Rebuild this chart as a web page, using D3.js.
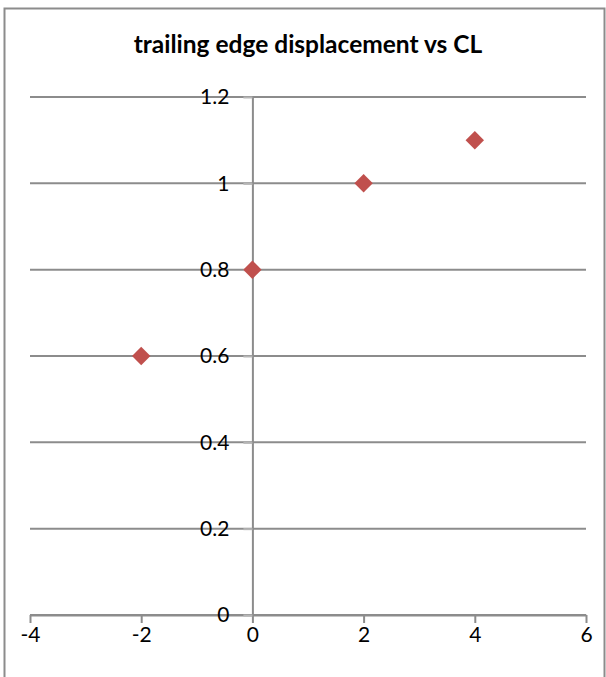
<!DOCTYPE html>
<html>
<head>
<meta charset="utf-8">
<script src="https://cdn.jsdelivr.net/npm/d3@7"></script>
<style>
  html, body { margin: 0; padding: 0; background: #fff; }
  svg { display: block; }
  text { font-family: Lato, "Open Sans", sans-serif; fill: #000; }
</style>
</head>
<body>
<svg id="chart" width="606" height="677"></svg>
<script>
// Scatter data: lift coefficient vs trailing edge displacement
const clValues = [-2, 0, 2, 4];
const displacement = [0.6, 0.8, 1.0, 1.1];
const xTicks = [-4, -2, 0, 2, 4, 6];
const yTicks = [0, 0.2, 0.4, 0.6, 0.8, 1, 1.2];
const titleText = "trailing edge displacement vs CL";

const plot = { left: 30, right: 586, top: 97, bottom: 615 };
const gridColor = "#8c8c8c";
const markerColor = "#c0504d";
const labelSize = 21;

const svg = d3.select("#chart");

// chart frame
svg.append("rect")
  .attr("x", 4.5).attr("y", 8.5)
  .attr("width", 600).attr("height", 700)
  .attr("fill", "none").attr("stroke", gridColor).attr("stroke-width", 2);

const x = d3.scaleLinear().domain([-4, 6]).range([plot.left, plot.right]);
const y = d3.scaleLinear().domain([0, 1.2]).range([plot.bottom, plot.top]);

// horizontal gridlines
svg.append("g").selectAll("line")
  .data(yTicks)
  .join("line")
  .attr("x1", plot.left).attr("x2", plot.right)
  .attr("y1", d => y(d)).attr("y2", d => y(d))
  .attr("stroke", gridColor).attr("stroke-width", 2);

// x axis along y = 0, ticks pointing down
const xAxis = svg.append("g")
  .attr("transform", `translate(0,${y(0)})`)
  .call(d3.axisBottom(x).tickValues(xTicks).tickFormat(d => String(d))
    .tickSizeInner(8).tickSizeOuter(0).tickPadding(4));
xAxis.select(".domain").attr("stroke", gridColor).attr("stroke-width", 2);
xAxis.selectAll(".tick line").attr("stroke", gridColor).attr("stroke-width", 2);
xAxis.selectAll(".tick text").attr("font-size", labelSize).attr("font-family", "Lato, sans-serif");

// y axis through x = 0, ticks pointing left
const yAxis = svg.append("g")
  .attr("transform", `translate(${x(0)},0)`)
  .call(d3.axisLeft(y).tickValues(yTicks).tickFormat(d => String(d))
    .tickSizeInner(9).tickSizeOuter(0).tickPadding(14));
yAxis.select(".domain").attr("stroke", gridColor).attr("stroke-width", 2);
yAxis.selectAll(".tick line").attr("stroke", "#b5b5b5").attr("stroke-width", 2);
yAxis.selectAll(".tick text").attr("font-size", labelSize).attr("font-family", "Lato, sans-serif");

// diamond markers
const pts = clValues.map((c, i) => ({ c, v: displacement[i] }));
svg.append("g").selectAll("path")
  .data(pts)
  .join("path")
  .attr("d", d3.symbol().type(d3.symbolSquare).size(170))
  .attr("transform", d => `translate(${x(d.c)},${y(d.v)}) rotate(45)`)
  .attr("fill", markerColor);

// title
svg.append("text")
  .attr("x", 308).attr("y", 53)
  .attr("text-anchor", "middle")
  .attr("font-size", 24.5).attr("font-weight", "bold")
  .text(titleText);
</script>
</body>
</html>
